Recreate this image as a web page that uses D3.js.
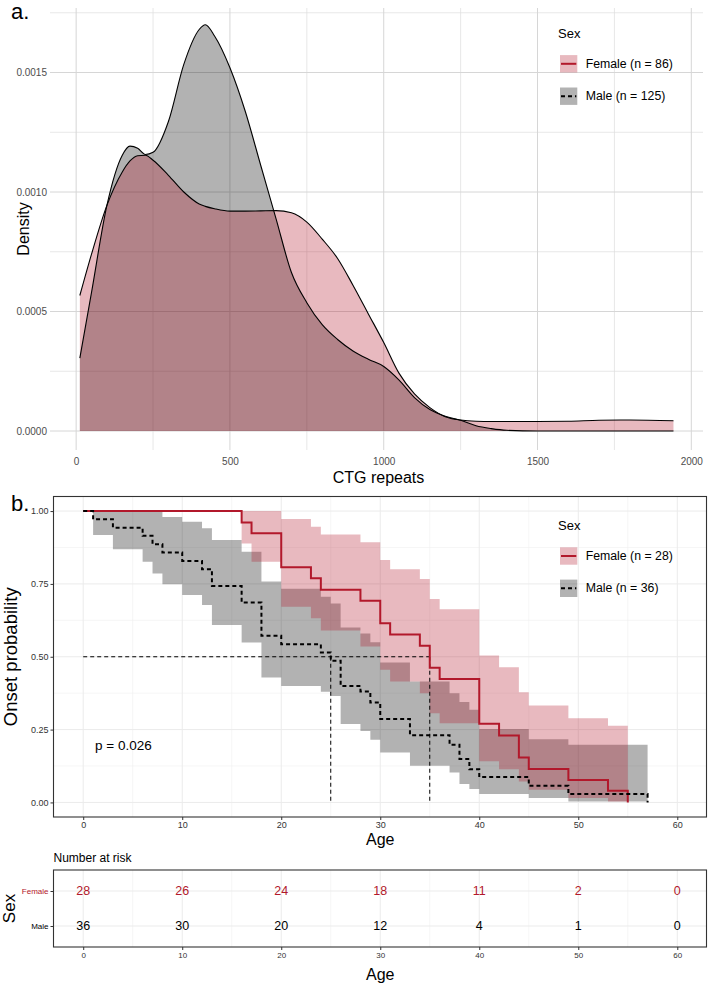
<!DOCTYPE html>
<html><head><meta charset="utf-8">
<script src="https://cdn.jsdelivr.net/npm/d3@7"></script>
<style>
body{margin:0;background:#fff}
svg{display:block}
text{font-family:"Liberation Sans",Arial,Helvetica,sans-serif}
</style>
</head><body>
<svg id="chart" width="708" height="986"></svg>
<script>
// ---------------- DATA ----------------
// Panel a: density of CTG repeats by sex
const ctgRepeats = [12,50,100,150,175,200,225,250,300,350,400,420,450,500,550,600,650,700,750,800,850,900,950,1000,1050,1100,1150,1200,1250,1300,1350,1400,1500,1600,1700,1800,1942];
const femaleDensity = [0.000567,0.00074,0.000944,0.001084,0.00113,0.001152,0.001154,0.001133,0.00107,0.001,0.00095,0.00094,0.00093,0.00092,0.00092,0.000921,0.000922,0.000913,0.000874,0.000803,0.000722,0.00061,0.00049,0.00037,0.000241,0.000155,0.000098,0.00006,0.000046,0.000041,0.00004,0.00004,0.00004,0.000041,0.000045,0.000046,0.000043];
const maleDensity = [0.000305,0.00058,0.000944,0.001154,0.001192,0.001183,0.001157,0.001166,0.001295,0.001534,0.00168,0.0017,0.001653,0.00152,0.001337,0.001112,0.000888,0.000663,0.000537,0.000445,0.000383,0.000335,0.0003,0.00027,0.000213,0.00014,0.00009,0.000062,0.000045,0.000022,0.00001,0.000003,0,0,0,0,0];
const densityXTicks = [0,500,1000,1500,2000];
const densityYTicks = [0,0.0005,0.0010,0.0015];
const densityYLabels = ["0.0000","0.0005","0.0010","0.0015"];
const legendALabels = ["Female (n = 86)","Male (n = 125)"];

// Panel b: Kaplan-Meier onset curves
const femaleTimes = [0,16,17,20,23,24,28,30,31,34,35,36,40,42,44,45,49,53,55];
const femaleSurv  = [1,0.961,0.924,0.807,0.769,0.730,0.692,0.615,0.576,0.538,0.462,0.424,0.270,0.230,0.154,0.115,0.077,0.040,0];
const femaleUpper = [1,1,1,0.973,0.946,0.920,0.893,0.832,0.800,0.767,0.698,0.663,0.504,0.464,0.378,0.333,0.289,0.263];
const femaleLower = [1,0.889,0.826,0.672,0.632,0.590,0.535,0.455,0.415,0.375,0.306,0.272,0.141,0.114,0.072,0.0435,0.015,0.003];
const maleTimes = [0,1,3,6,7,8,10,12,13,16,18,20,24,25,26,28,29,30,33,37,38,39,40,45,49,57];
const maleSurv  = [1,0.972,0.943,0.915,0.886,0.858,0.829,0.800,0.743,0.686,0.572,0.543,0.515,0.486,0.400,0.381,0.343,0.286,0.231,0.198,0.149,0.114,0.087,0.057,0.029,0];
const maleUpper = [1,1,1,1,1,0.98,0.963,0.941,0.901,0.860,0.758,0.733,0.706,0.683,0.60,0.58,0.55,0.48,0.415,0.375,0.345,0.318,0.252,0.217,0.198];
const maleLower = [1,0.918,0.869,0.826,0.786,0.749,0.712,0.678,0.609,0.549,0.429,0.400,0.38,0.365,0.269,0.245,0.215,0.171,0.126,0.103,0.063,0.046,0.029,0.015,0.003];
const femaleMedian = 35, maleMedian = 25;
const ageTicks = [0,10,20,30,40,50,60];
const survTicks = [0,0.25,0.5,0.75,1];
const survLabels = ["0.00","0.25","0.50","0.75","1.00"];
const legendBLabels = ["Female (n = 28)","Male (n = 36)"];
const pValueText = "p = 0.026";

// Risk table
const strata = ["Female","Male"];
const riskTimes = [0,10,20,30,40,50,60];
const femaleRisk = [28,26,24,18,11,2,0];
const maleRisk = [36,30,20,12,4,1,0];

// ---------------- STYLE ----------------
const RED = "#B2182B";
const svg = d3.select("#chart");

// ================= PANEL A =================
const A = {l:50, r:703, t:8, b:450};
const xA = d3.scaleLinear().domain([-85,2038]).range([A.l,A.r]);
const yA = d3.scaleLinear().domain([-0.0000795,0.00177]).range([A.b,A.t]);
const gA = svg.append("g");

const minorXA = [250,750,1250,1750], minorYA = [0.00025,0.00075,0.00125,0.00175];
gA.selectAll(".vmin").data(minorXA).join("line")
  .attr("x1",d=>xA(d)).attr("x2",d=>xA(d)).attr("y1",A.t).attr("y2",A.b)
  .attr("stroke","#DCDCDC").attr("stroke-width",0.7);
gA.selectAll(".hmin").data(minorYA).join("line")
  .attr("x1",A.l).attr("x2",A.r).attr("y1",d=>yA(d)).attr("y2",d=>yA(d))
  .attr("stroke","#DCDCDC").attr("stroke-width",0.7);
gA.selectAll(".vmaj").data(densityXTicks).join("line")
  .attr("x1",d=>xA(d)).attr("x2",d=>xA(d)).attr("y1",A.t).attr("y2",A.b)
  .attr("stroke","#D6D6D6").attr("stroke-width",1);
gA.selectAll(".hmaj").data(densityYTicks).join("line")
  .attr("x1",A.l).attr("x2",A.r).attr("y1",d=>yA(d)).attr("y2",d=>yA(d))
  .attr("stroke","#D6D6D6").attr("stroke-width",1);

const maleDens = ctgRepeats.map((x,i)=>({x, y:maleDensity[i]}));
const femDens = ctgRepeats.map((x,i)=>({x, y:femaleDensity[i]}));
const areaA = d3.area().x(d=>xA(d.x)).y0(yA(0)).y1(d=>yA(d.y)).curve(d3.curveMonotoneX);
const lineA = d3.line().x(d=>xA(d.x)).y(d=>yA(d.y)).curve(d3.curveMonotoneX);

gA.append("path").datum(maleDens).attr("d",areaA).attr("fill","#000").attr("fill-opacity",0.3);
gA.append("path").datum(femDens).attr("d",areaA).attr("fill",RED).attr("fill-opacity",0.3);
gA.append("path").datum(maleDens).attr("d",lineA).attr("fill","none").attr("stroke","#000").attr("stroke-width",1.1);
gA.append("path").datum(femDens).attr("d",lineA).attr("fill","none").attr("stroke","#000").attr("stroke-width",1.1);

const axA_x = gA.append("g").attr("transform",`translate(0,${A.b})`)
  .call(d3.axisBottom(xA).tickValues(densityXTicks).tickFormat(d3.format("d")).tickSize(0).tickPadding(8));
const axA_y = gA.append("g").attr("transform",`translate(${A.l},0)`)
  .call(d3.axisLeft(yA).tickValues(densityYTicks).tickFormat((d,i)=>densityYLabels[i]).tickSize(0).tickPadding(3));
[axA_x,axA_y].forEach(a=>{a.select(".domain").remove();
  a.selectAll("text").attr("fill","#4D4D4D").style("font-size","10px").style("font-family",'"Liberation Sans",Arial,sans-serif');});

gA.append("text").attr("x",(A.l+A.r)/2+2).attr("y",483).attr("text-anchor","middle")
  .style("font-size","16px").attr("fill","#000").text("CTG repeats");
gA.append("text").attr("transform",`translate(29,${(A.t+A.b)/2}) rotate(-90)`).attr("text-anchor","middle")
  .style("font-size","16px").attr("fill","#000").text("Density");
gA.append("text").attr("x",11).attr("y",18.5).style("font-size","22px").text("a.");

function legend(g, x0, yTitle, yKeys, labels){
  g.append("text").attr("x",x0-2).attr("y",yTitle).attr("dominant-baseline","central")
    .style("font-size","13px").text("Sex");
  const keys = [{fill:RED,line:RED,dash:null},{fill:"#000",line:"#000",dash:"4,3"}];
  keys.forEach((k,i)=>{
    const yc = yKeys[i];
    g.append("rect").attr("x",x0).attr("y",yc-8.7).attr("width",17.3).attr("height",17.4)
      .attr("fill",k.fill).attr("fill-opacity",0.3);
    g.append("line").attr("x1",x0+1).attr("x2",x0+16.3).attr("y1",yc).attr("y2",yc)
      .attr("stroke",k.line).attr("stroke-width",2).attr("stroke-dasharray",k.dash);
    g.append("text").attr("x",x0+25.7).attr("y",yc).attr("dominant-baseline","central")
      .style("font-size","12.3px").text(labels[i]);
  });
}
legend(gA, 560, 33, [63.8,96.2], legendALabels);

// ================= PANEL B =================
const B = {l:53.5, r:706.5, t:496.5, b:817};
const xB = d3.scaleLinear().domain([-3,63]).range([53.5,707]);
const yB = d3.scaleLinear().domain([-0.05,1.05]).range([B.b,B.t]);
const gB = svg.append("g");

const minorAge = [5,15,25,35,45,55];
const minorSurv = [0.125,0.375,0.625,0.875];
function gridV(g,vals,y1,y2,w,c){g.selectAll(null).data(vals).join("line")
  .attr("x1",d=>xB(d)).attr("x2",d=>xB(d)).attr("y1",y1).attr("y2",y2).attr("stroke",c).attr("stroke-width",w);}
gridV(gB,minorAge,B.t,B.b,0.6,"#F0F0F0");
gB.selectAll(null).data(minorSurv).join("line").attr("x1",B.l).attr("x2",B.r)
  .attr("y1",d=>yB(d)).attr("y2",d=>yB(d)).attr("stroke","#F0F0F0").attr("stroke-width",0.6);
gridV(gB,ageTicks,B.t,B.b,1,"#EBEBEB");
gB.selectAll(null).data(survTicks).join("line").attr("x1",B.l).attr("x2",B.r)
  .attr("y1",d=>yB(d)).attr("y2",d=>yB(d)).attr("stroke","#EBEBEB").attr("stroke-width",1);

function bandData(times, lo, hi){
  const out = lo.map((v,i)=>({t:times[i], lo:v, hi:hi[i]}));
  out.push({t:times[times.length-1], lo:lo[lo.length-1], hi:hi[hi.length-1]});
  return out;
}
const bandB = d3.area().x(d=>xB(d.t)).y0(d=>yB(d.lo)).y1(d=>yB(d.hi)).curve(d3.curveStepAfter);
gB.append("path").datum(bandData(maleTimes,maleLower,maleUpper)).attr("d",bandB)
  .attr("fill","#000").attr("fill-opacity",0.3);
gB.append("path").datum(bandData(femaleTimes,femaleLower,femaleUpper)).attr("d",bandB)
  .attr("fill",RED).attr("fill-opacity",0.3);

const medH = [{t:0,s:0.5},{t:femaleMedian,s:0.5}];
const lineB = d3.line().x(d=>xB(d.t)).y(d=>yB(d.s));
gB.append("path").datum(medH).attr("d",lineB).attr("fill","none").attr("stroke","#000").attr("stroke-width",1).attr("stroke-dasharray","4,3");
[maleMedian,femaleMedian].forEach(m=>{
  gB.append("path").datum([{t:m,s:0.5},{t:m,s:0}]).attr("d",lineB).attr("fill","none")
    .attr("stroke","#000").attr("stroke-width",1).attr("stroke-dasharray","4,3");
});

const stepB = d3.line().x(d=>xB(d.t)).y(d=>yB(d.s)).curve(d3.curveStepAfter);
gB.append("path").datum(femaleTimes.map((t,i)=>({t,s:femaleSurv[i]}))).attr("d",stepB)
  .attr("fill","none").attr("stroke",RED).attr("stroke-width",2);
gB.append("path").datum(maleTimes.map((t,i)=>({t,s:maleSurv[i]}))).attr("d",stepB)
  .attr("fill","none").attr("stroke","#000").attr("stroke-width",2).attr("stroke-dasharray","4,3");

gB.append("rect").attr("x",B.l).attr("y",B.t).attr("width",B.r-B.l).attr("height",B.b-B.t)
  .attr("fill","none").attr("stroke","#333").attr("stroke-width",1.1);

const axB_x = gB.append("g").attr("transform",`translate(0,${B.b})`)
  .call(d3.axisBottom(xB).tickValues(ageTicks).tickSize(3).tickPadding(2));
const axB_y = gB.append("g").attr("transform",`translate(${B.l},0)`)
  .call(d3.axisLeft(yB).tickValues(survTicks).tickFormat((d,i)=>survLabels[i]).tickSize(3).tickPadding(2));
[axB_x,axB_y].forEach(a=>{a.select(".domain").remove();
  a.selectAll("line").attr("stroke","#333");
  a.selectAll("text").attr("fill","#333").style("font-size","9px").style("font-family",'"Liberation Sans",Arial,sans-serif');});

gB.append("text").attr("x",xB(30)).attr("y",845).attr("text-anchor","middle").style("font-size","16px").text("Age");
gB.append("text").attr("transform",`translate(17,${(B.t+B.b)/2}) rotate(-90)`).attr("text-anchor","middle")
  .style("font-size","18.5px").text("Onset probability");
gB.append("text").attr("x",11).attr("y",510.7).style("font-size","22px").text("b.");
gB.append("text").attr("x",xB(1.2)).attr("y",yB(0.197)).attr("dominant-baseline","central")
  .style("font-size","13.5px").text(pValueText);
legend(gB, 560, 525, [556,588.3], legendBLabels);

// ================= RISK TABLE =================
const R = {l:53.5, r:706.5, t:870, b:947};
const yR = d3.scalePoint().domain(strata).range([R.t,R.b]).padding(0.6);
const gR = svg.append("g");
gR.append("text").attr("x",R.l).attr("y",858).attr("dominant-baseline","central").style("font-size","12px").text("Number at risk");
gridV(gR,minorAge,R.t,R.b,0.6,"#F0F0F0");
gridV(gR,ageTicks,R.t,R.b,1,"#EBEBEB");
gR.selectAll(null).data(strata).join("line").attr("x1",R.l).attr("x2",R.r)
  .attr("y1",d=>yR(d)).attr("y2",d=>yR(d)).attr("stroke","#EBEBEB").attr("stroke-width",1);
gR.selectAll(".fr").data(femaleRisk).join("text").attr("x",(d,i)=>xB(riskTimes[i])).attr("y",yR("Female"))
  .attr("text-anchor","middle").attr("dominant-baseline","central").attr("fill",RED).style("font-size","12.5px").text(d=>d);
gR.selectAll(".mr").data(maleRisk).join("text").attr("x",(d,i)=>xB(riskTimes[i])).attr("y",yR("Male"))
  .attr("text-anchor","middle").attr("dominant-baseline","central").attr("fill","#000").style("font-size","12.5px").text(d=>d);
gR.append("rect").attr("x",R.l).attr("y",R.t).attr("width",R.r-R.l).attr("height",R.b-R.t)
  .attr("fill","none").attr("stroke","#333").attr("stroke-width",1.1);
const axR_x = gR.append("g").attr("transform",`translate(0,${R.b})`)
  .call(d3.axisBottom(xB).tickValues(ageTicks).tickSize(3).tickPadding(2));
const axR_y = gR.append("g").attr("transform",`translate(${R.l},0)`)
  .call(d3.axisLeft(yR).tickSize(3).tickPadding(2));
[axR_x,axR_y].forEach(a=>{a.select(".domain").remove();
  a.selectAll("line").attr("stroke","#333");
  a.selectAll("text").attr("fill","#333").style("font-size","8px").style("font-family",'"Liberation Sans",Arial,sans-serif');});
axR_y.selectAll("text").attr("fill",d=>d==="Female"?RED:"#000");
gR.append("text").attr("x",xB(30)).attr("y",980).attr("text-anchor","middle").style("font-size","16px").text("Age");
gR.append("text").attr("transform",`translate(15,${(R.t+R.b)/2}) rotate(-90)`).attr("text-anchor","middle")
  .style("font-size","17px").text("Sex");
</script>
</body></html>
